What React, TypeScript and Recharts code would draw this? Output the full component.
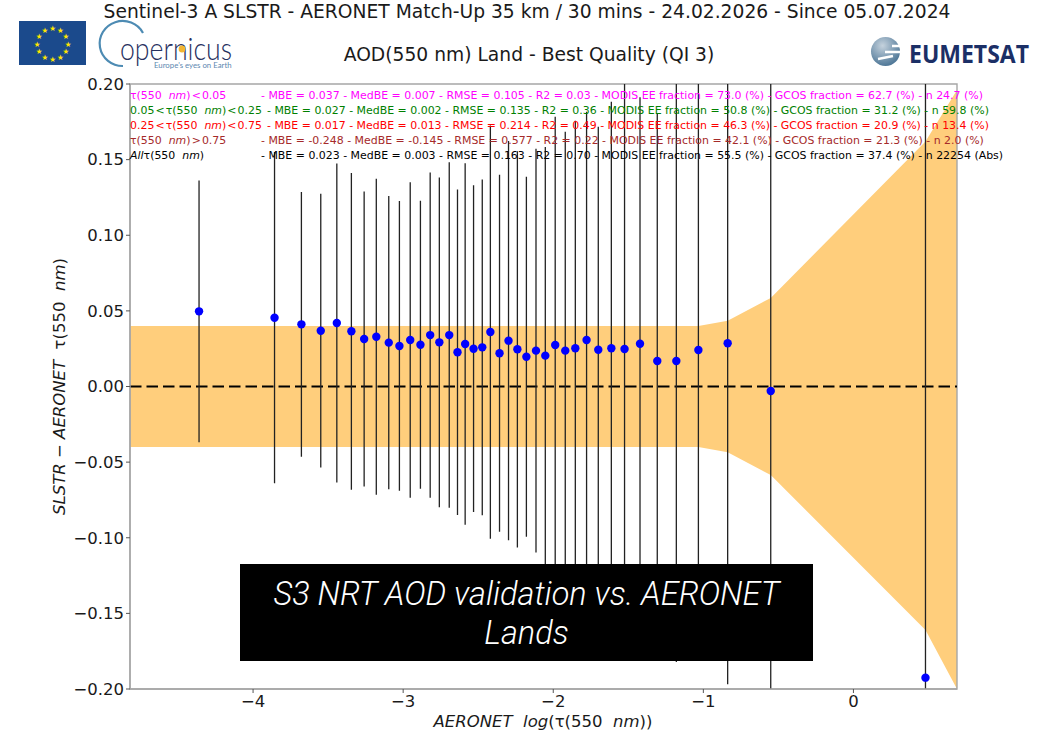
import {
  ComposedChart, Area, Line, ErrorBar, XAxis, YAxis, ReferenceLine, ReferenceArea,
} from 'recharts'

// AERONET log(tau) bins, mean bias and error bar half length
const logTau = [
  -4.36, -3.857, -3.678, -3.549, -3.442, -3.345, -3.26, -3.179, -3.096, -3.025,
  -2.953, -2.885, -2.82, -2.759, -2.693, -2.638, -2.587, -2.531, -2.473, -2.419,
  -2.358, -2.298, -2.239, -2.179, -2.115, -2.053, -1.987, -1.92, -1.853, -1.778,
  -1.7, -1.613, -1.525, -1.422, -1.307, -1.18, -1.033, -0.838, -0.551, 0.48,
]
const bias = [
  0.0497, 0.0455, 0.0411, 0.0369, 0.042, 0.0365, 0.0314, 0.0329, 0.029, 0.0268,
  0.0307, 0.0276, 0.034, 0.0292, 0.034, 0.0226, 0.0281, 0.025, 0.0259, 0.036,
  0.022, 0.0303, 0.0246, 0.0197, 0.0237, 0.0204, 0.0274, 0.0237, 0.0253, 0.0307,
  0.0243, 0.0253, 0.0248, 0.0283, 0.0169, 0.0169, 0.0241, 0.0286, -0.003, -0.1925,
]
const spread = [
  0.0865, 0.1095, 0.0875, 0.0905, 0.1055, 0.1047, 0.0975, 0.1045, 0.097, 0.0958,
  0.1043, 0.0952, 0.1075, 0.109, 0.1142, 0.1076, 0.1195, 0.108, 0.111, 0.1366,
  0.118, 0.132, 0.131, 0.119, 0.1335, 0.138, 0.151, 0.1448, 0.1504, 0.151,
  0.1475, 0.163, 0.185, 0.163, 0.164, 0.199, 0.19, 0.2255, 0.25, 0.45,
]

// GCOS band
const bandX = [-4.82, -1.033, -0.838, -0.551, 0.48, 0.69]
const bandUpper = [0.04, 0.04, 0.0435, 0.0585, 0.162, 0.196]
const bandLower = [-0.04, -0.04, -0.0435, -0.0585, -0.161, -0.2]

const xTicks = [-4, -3, -2, -1, 0]
const yTicks = [0.2, 0.15, 0.1, 0.05, 0, -0.05, -0.1, -0.15, -0.2]
const Y_MAX = 0.2

const statColors = ['#ff00ff', '#008000', '#ff0000', '#a52a2a', '#000000']
const statText = [
  '- MBE = 0.037 - MedBE = 0.007 - RMSE = 0.105 - R2 = 0.03 - MODIS EE fraction = 73.0 (%) - GCOS fraction = 62.7 (%) - n 24.7 (%)',
  '- MBE = 0.027 - MedBE = 0.002 - RMSE = 0.135 - R2 = 0.36 - MODIS EE fraction = 50.8 (%) - GCOS fraction = 31.2 (%) - n 59.8 (%)',
  '- MBE = 0.017 - MedBE = 0.013 - RMSE = 0.214 - R2 = 0.49 - MODIS EE fraction = 46.3 (%) - GCOS fraction = 20.9 (%) - n 13.4 (%)',
  '- MBE = -0.248 - MedBE = -0.145 - RMSE = 0.577 - R2 = 0.22 - MODIS EE fraction = 42.1 (%) - GCOS fraction = 21.3 (%) - n 2.0 (%)',
  '- MBE = 0.023 - MedBE = 0.003 - RMSE = 0.163 - R2 = 0.70 - MODIS EE fraction = 55.5 (%) - GCOS fraction = 37.4 (%) - n 22254 (Abs)',
]
const statPrefix = ['', '0.05\u200a<\u200a', '0.25\u200a<\u200a', '', '']
const statSuffix = ['\u200a<\u200a0.05', '\u200a<\u200a0.25', '\u200a<\u200a0.75', '\u200a>\u200a0.75', '']
const statX = [261, 267, 267, 261, 261]

const FONT = '"DejaVu Sans", sans-serif'
// the matplotlib bars stop at the frame, so the ends are held inside the y range
const points = logTau.map((x, i) => ({
  x,
  y: bias[i],
  err: [Math.min(spread[i], bias[i] + Y_MAX), Math.min(spread[i], Y_MAX - bias[i])],
}))
const band = bandX.map((x, i) => ({ x, range: [bandLower[i], bandUpper[i]] }))

const fmtY = (v: number) => v.toFixed(2).replace('-', '\u2212')
const fmtX = (v: number) => String(v).replace('-', '\u2212')

function Tau() {
  return (
    <>
      <tspan>{'τ(550\u00a0\u00a0'}</tspan>
      <tspan fontStyle="italic">nm</tspan>
      <tspan>)</tspan>
    </>
  )
}

function Logos() {
  const stars = Array.from({ length: 12 }, (_, i) => i)
  return (
    <>
      <rect x={19} y={21} width={67} height={44} fill="#1b4a8c" />
      {stars.map(i => (
        <text key={i} x={52.5 + 15.5 * Math.sin((i * Math.PI) / 6)} y={46.5 - 15.5 * Math.cos((i * Math.PI) / 6)}
          fontSize={7.5} fill="#ffe600" textAnchor="middle" fontFamily={FONT}>★</text>
      ))}
      <path d="M143 33 A23 22.5 0 1 0 123 66" fill="none" stroke="#4d8bb3" strokeWidth={2.2} />
      <text x={120} y={60} fontFamily="Lato" fontWeight={300} fontSize={31} fill="#27315f" textLength={112} lengthAdjust="spacingAndGlyphs">opernicus</text>
      <circle cx={182} cy={49} r={3.4} fill="#f2b632" />
      <text x={154} y={68} fontFamily="Lato" fontSize={7.8} fill="#5d88b0">Europe's eyes on Earth</text>
      <defs>
        <radialGradient id="globe" cx="0.4" cy="0.3" r="0.8">
          <stop offset="0" stopColor="#c5d2dd" />
          <stop offset="1" stopColor="#3f6b8e" />
        </radialGradient>
      </defs>
      <circle cx={885.5} cy={51.5} r={14.5} fill="url(#globe)" />
      <path d="M892 46 H902 M885 52 H902 M878 59 L893 56" stroke="#ffffff" strokeWidth={2.4} fill="none" />
      <text x={909} y={63} fontFamily="'Open Sans'" fontWeight={700} fontSize={25} fill="#1b2f66" textLength={120} lengthAdjust="spacingAndGlyphs">EUMETSAT</text>
    </>
  )
}

export default function App() {
  return (
    <div style={{ position: 'fixed', left: 0, top: 0, width: 1037, height: 733, background: '#fff', overflow: 'hidden' }}>
      <ComposedChart width={1037} height={733} margin={{ top: 84, right: 80, bottom: 0, left: 0 }}>
        <XAxis
          dataKey="x" type="number" domain={[-4.82, 0.69]} ticks={xTicks} tickFormatter={fmtX}
          allowDataOverflow height={44} tickSize={4} interval={0}
          axisLine={{ stroke: '#a6a6a6', strokeWidth: 1.4 }} tickLine={{ stroke: '#555' }}
          tick={{ fill: '#1a1a1a', fontSize: 16.5, fontFamily: FONT }}
        />
        <YAxis
          type="number" domain={[-Y_MAX, Y_MAX]} ticks={yTicks} tickFormatter={fmtY}
          allowDataOverflow width={130} tickSize={4} interval={0}
          axisLine={{ stroke: '#a6a6a6', strokeWidth: 1.4 }} tickLine={{ stroke: '#555' }}
          tick={{ fill: '#1a1a1a', fontSize: 16.5, fontFamily: FONT }}
        />
        <Area data={band} dataKey="range" type="linear" stroke="none" fill="#ffce7c" fillOpacity={1} isAnimationActive={false} />
        <ReferenceLine y={0} stroke="#000" strokeWidth={2} strokeDasharray="11.5 5" />
        <Line
          data={points} dataKey="y" stroke="none" isAnimationActive={false}
          dot={{ r: 4.2, fill: '#0000ff', stroke: 'none', fillOpacity: 1 }}
        >
          <ErrorBar dataKey="err" direction="y" width={0} stroke="#222" strokeWidth={1.3} isAnimationActive={false} />
        </Line>
        <ReferenceArea x1={-4.82} x2={0.69} y1={-Y_MAX} y2={Y_MAX} fill="none" stroke="#a6a6a6" strokeWidth={1.4} />
      </ComposedChart>

      <svg width={1037} height={733} style={{ position: 'absolute', left: 0, top: 0 }} fontFamily={FONT}>
        <Logos />
        <text x={527} y={18} textAnchor="middle" fontSize={18.7} fill="#1a1a1a">
          Sentinel-3 A SLSTR - AERONET Match-Up 35 km / 30 mins - 24.02.2026 - Since 05.07.2024
        </text>
        <text x={529} y={61} textAnchor="middle" fontSize={18.7} fill="#1a1a1a">
          AOD(550 nm) Land - Best Quality (QI 3)
        </text>
        {statText.map((t, i) => (
          <g key={i} fontSize={10.95} fill={statColors[i]}>
            <text x={130} y={99 + i * 15.1}>
              {statPrefix[i]}
              {i === 4 && <tspan fontStyle="italic">All</tspan>}
              <Tau />
              {statSuffix[i]}
            </text>
            <text x={statX[i]} y={99 + i * 15.1}>{t}</text>
          </g>
        ))}
        <text x={543} y={727} textAnchor="middle" fontSize={16.5} fill="#1a1a1a">
          <tspan fontStyle="italic">{'AERONET\u00a0\u00a0log'}</tspan>(<Tau />)
        </text>
        <text transform="translate(65 386.5) rotate(-90)" textAnchor="middle" fontSize={16.5} fill="#1a1a1a">
          <tspan fontStyle="italic">SLSTR</tspan>{' − '}<tspan fontStyle="italic">AERONET</tspan>{'\u00a0\u00a0'}<Tau />
        </text>
        <rect x={240} y={564} width={573} height={97} fill="#000" />
        <g fontFamily="Roboto" fontStyle="italic" fontWeight={300} fontSize={32.5} fill="#fff" textAnchor="middle">
          <text x={526.5} y={605}>S3 NRT AOD validation vs. AERONET</text>
          <text x={526.5} y={644}>Lands</text>
        </g>
      </svg>
    </div>
  )
}
